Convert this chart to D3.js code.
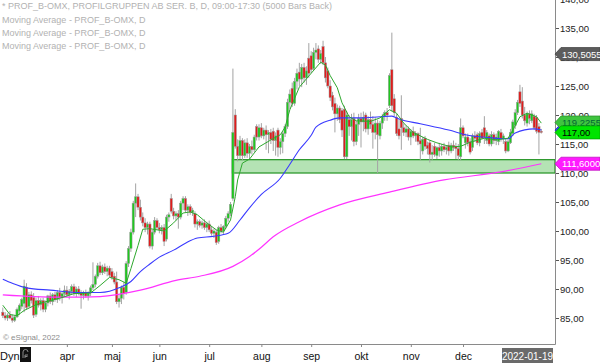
<!DOCTYPE html>
<html>
<head>
<meta charset="utf-8">
<script src="https://cdn.jsdelivr.net/npm/d3@7"></script>
<style>
  body { margin: 0; background: #fff; }
  svg { display: block; font-family: Arial, "Liberation Sans", sans-serif; }
</style>
</head>
<body>
<svg id="chart" width="600" height="363"></svg>
<script>
// daily bars, late Feb 2021 .. 2022-01-19
const opens = [
  86,85.4,85,85.5,85,84.6,85.2,86.2,87,87.5,90.3,87,89,88.5,85.6,88,87.3,88,86.5,87.6,88.8,87.8,89,88.2,89.4,88.5,89.2,
  89.8,89,89.6,90.4,89.2,90,89.3,88.9,89.4,88.8,89.3,90.2,90.8,92.2,94,92.8,93.8,93,93.6,
  93.0,92.2,91.2,87.8,88.4,90.3,89.4,94.4,97.0,99.8,104.8,105.9,104.1,102.4,101.4,100.6,101.2,97.4,99.8,101.8,
  100.6,100.2,100.6,98.6,102.4,105.6,103.4,102.6,103.0,102.4,104.8,105.6,103.6,104.2,103.2,103.0,101.2,101.6,101.0,101.4,100.6,
  101.2,100.2,99.6,99.8,98.2,100.6,100.0,100.8,102.2,103.0,105.6,120.0,114.6,113.0,115.6,113.0,115.2,113.4,114.6,114.0,118.0,116.2,
  117.8,116.4,117.4,116.6,117.0,117.2,115.6,117.4,114.4,115.4,116.8,118.0,122.2,124.6,122.0,125.8,127.4,126.2,128.2,126.4,129.8,
  130.2,128.0,130.8,131.4,129.6,131.8,129.0,127.6,125.0,123.4,122.0,120.2,121.2,120.8,121.0,112.8,119.2,118.0,119.4,115.4,118.4,
  119.4,118.8,120.0,117.6,119.2,118.4,117.0,118.6,116.4,118.6,119.8,120.4,121.6,127.8,122.8,119.6,117.6,119.4,117.8,117.0,117.6,
  116.2,117.2,116.4,116.8,115.6,113.8,116.0,114.8,115.2,113.2,114.6,113.0,114.4,113.8,114.6,114.0,114.8,113.8,114.8,114.6,114.2,112.8,
  117.8,115.2,116.2,115.4,114.4,116.4,116.6,115.2,117.0,117.8,115.6,116.4,115.0,116.6,115.6,115.4,117.0,116.0,115.4,113.8,115.2,
  116.8,118.2,120.4,124.0,122.4,120.0,118.6,120.2,119.0,119.8,119.6,118.0,117.2
];
const highs = [
  86.8,86,85.8,86.2,85.6,85.5,86.8,87.5,88.5,91.6,91,89.5,89.6,89.3,88.5,88.8,88.4,88.5,88,89,89.4,89.3,89.5,89.8,90.2,89.5,90.6,
  90.5,90,90.8,90.9,90.4,90.5,89.8,89.7,89.9,89.6,90.6,94.6,92.5,94.5,94.7,94.2,94.4,94,94,
  93.6,92.8,93.0,89.0,90.6,91.2,94.8,97.4,100.4,105.2,108.2,106.4,105.4,103.2,102.2,101.6,101.6,100.2,102.4,102.2,
  101.4,101.0,101.2,102.8,103.2,106.4,104.0,103.4,103.6,105.2,106.0,106.0,104.6,104.6,104.0,103.4,102.0,102.0,101.8,102.0,101.6,
  101.8,100.8,100.4,100.2,100.9,101.2,101.0,102.6,103.4,105.0,128.0,121.0,115.8,116.4,116.0,115.8,116.0,115.0,115.6,116.6,118.4,118.4,
  118.6,117.8,118.2,117.4,117.6,117.8,117.0,117.8,116.0,117.2,118.4,122.8,124.4,125.6,126.4,128.0,129.0,128.8,129.0,128.4,132.4,
  131.0,131.6,132.4,132.0,131.2,132.8,130.0,128.2,126.0,124.0,123.0,121.8,121.6,121.2,121.6,120.6,120.0,120.2,120.4,119.0,120.2,
  120.4,120.6,120.4,119.8,120.6,119.8,119.6,119.2,119.0,120.2,120.8,121.2,127.2,134.2,123.6,120.2,119.2,123.4,118.6,118.2,118.0,
  117.6,118.0,117.2,117.0,117.8,116.2,116.4,115.4,115.6,114.8,115.2,114.6,115.2,115.0,115.2,114.8,115.4,115.2,115.6,115.2,115.0,119.4,
  118.2,116.8,116.8,116.0,116.8,117.2,117.0,117.2,117.6,119.8,117.4,116.8,117.2,117.0,116.8,117.4,117.6,116.8,116.0,115.8,117.6,
  119.2,121.0,122.6,125.2,124.8,121.4,120.6,120.8,120.8,120.2,120.0,118.6,117.6
];
const lows = [
  85,84.6,84.5,84.8,84.2,84.3,85,85.5,86.5,86,86.5,86.8,87.5,85,85.2,86.8,86.3,86,86,87,87.4,87.2,87.8,87.6,88,87.5,88.7,
  88.6,88.2,89,88.8,88.6,88.9,86.6,88.2,88.5,88,88.8,89.8,90.3,91.8,92.4,92.4,92.6,92.2,92,
  91.6,90.8,87.4,86.8,87.4,88.2,89.0,93.8,96.4,99.4,102.4,103.6,101.8,100.8,99.8,99.4,97.0,96.8,99.4,100.2,
  99.6,99.4,97.4,98.2,101.6,103.0,102.0,101.8,100.4,102.0,103.6,103.2,102.6,102.8,102.6,100.6,100.2,100.6,100.4,100.2,99.8,
  99.8,99.2,98.8,97.6,97.8,99.6,99.4,100.4,101.6,102.6,105.2,114.2,112.0,112.4,112.2,112.6,112.6,112.4,113.2,113.6,115.6,115.6,
  116.0,115.8,114.0,113.4,115.0,113.8,113.0,112.8,113.2,113.4,116.2,117.6,121.0,121.4,121.6,124.4,125.0,124.8,125.6,125.2,126.4,
  127.2,127.6,129.6,129.0,128.8,128.6,125.6,124.6,122.4,120.8,117.0,119.0,118.6,116.2,112.4,112.4,116.4,115.6,114.6,114.8,116.4,
  114.4,117.2,117.0,116.6,117.6,114.2,115.8,110.0,115.8,117.6,119.0,119.0,121.2,120.6,119.8,116.4,115.8,114.0,116.4,116.2,115.6,
  114.8,116.0,115.4,114.8,112.2,113.2,114.0,113.2,111.8,112.2,112.8,112.4,112.8,113.0,113.6,113.2,113.0,113.4,113.8,112.4,112.2,112.2,
  116.0,114.2,114.6,113.2,113.8,115.4,114.8,114.6,115.8,115.0,115.0,114.6,114.6,115.0,114.8,114.8,115.4,115.0,113.4,113.6,115.0,
  116.4,117.6,120.0,121.4,119.4,118.2,118.0,118.4,118.6,117.4,116.8,113.2,116.8
];
const closes = [
  85.4,85,85.5,85,84.6,85.2,86.5,87.2,88.2,90.5,86.8,89,88,85.5,88,87.2,88,86.5,87.6,88.8,87.8,89,88.2,89.4,88.5,89.2,89.8,
  89,89.6,90.4,89.2,90,89.3,88.9,89.4,88.8,89.3,90.2,90.8,92.2,94,92.8,93.8,93,93.6,92.4,
  92.0,91.2,87.8,88.4,90.3,89.2,94.4,97.0,99.8,104.8,105.9,104.1,102.4,101.4,100.6,101.2,97.4,99.8,101.8,100.6,
  100.2,100.6,98.2,102.4,102.8,103.4,102.6,103.0,102.4,104.8,105.6,103.6,104.2,103.2,103.6,101.2,101.6,101.0,101.4,100.6,101.2,
  100.2,99.6,100.0,98.0,100.6,100.0,100.8,102.2,103.0,104.6,117.0,114.6,113.0,115.6,113.0,115.2,113.4,114.6,114.0,116.2,116.2,117.8,
  116.4,117.4,116.6,117.0,115.8,115.6,116.4,114.4,115.4,116.8,118.0,122.2,123.6,122.0,125.8,127.2,126.2,128.2,126.4,127.6,127.2,
  127.8,130.8,131.2,129.6,130.6,129.0,126.4,125.0,123.0,121.4,120.2,121.2,119.2,117.4,112.8,120.0,118.0,119.2,115.4,118.4,119.4,
  118.8,119.6,117.6,119.2,118.4,117.0,118.6,116.6,118.6,119.8,120.4,120.0,126.8,121.6,120.4,116.8,116.4,117.8,117.0,117.6,116.2,
  117.2,116.4,116.8,115.4,115.0,115.8,114.6,114.2,113.2,113.6,113.2,114.4,113.8,114.6,114.0,114.4,113.8,114.8,114.4,114.2,113.0,117.8,
  116.4,116.2,115.2,113.6,116.4,116.0,115.2,116.8,116.0,116.2,117.0,115.0,116.6,115.6,116.2,117.2,116.0,116.4,113.8,115.4,117.0,
  118.8,120.4,122.2,122.0,120.0,119.0,120.2,119.4,120.2,117.8,117.2,117.0,117.0
];

// month labels sit on the first bar of each month
const monthStarts = [27, 46, 66, 87, 109, 130, 151, 172, 194];
const monthNames = ["apr", "maj", "jun", "jul", "aug", "sep", "okt", "nov", "dec"];
const priceTicks = [85, 90, 95, 100, 105, 110, 115, 120, 125, 130, 135, 140];

// moving averages, sampled at bar numbers
const maFastBars = [0,3,6,9,14,18,24,30,37,41,45,49,52,54,57,59,62,65,68,72,76,79,82,86,90,93,96,98,99,101,104,108,113,117,119,121,125,130,134,136,138,141,143,146,149,155,159,163,166,169,173,179,183,189,193,197,203,208,213,215,218,221,225,227];
const maFastVals = [87.2,85.6,85.4,86.3,87.3,87.8,88.4,89.2,89.3,90.6,92.0,91.6,91.0,93.5,97.5,100.3,100.4,100.2,100.0,101.4,103.1,103.3,102.8,101.4,100.2,99.8,101.9,105.9,108.8,111.7,112.4,114.5,115.7,116.6,117.9,120.9,124.8,127.2,129.1,128.6,126.8,124.7,122.1,119.7,119.0,118.9,119.5,120.9,120.3,118.6,117.0,115.8,115.2,114.5,114.6,115.3,116.0,115.7,116.0,117.4,119.7,120.3,119.7,118.6];
const maMidBars = [0,4,10,20,33,41,45,49,54,58,62,66,72,77,82,89,95,100,104,109,117,121,125,130,132,138,142,151,159,164,167,176,188,196,205,213,216,224,227];
const maMidVals = [91.7,91.0,90.2,89.8,89.4,89.4,89.6,90.2,91.3,93.0,94.3,95.5,96.7,97.9,98.8,99.1,99.6,101.9,104.0,106.3,109.1,111.5,114.0,116.5,117.9,119.1,119.5,119.5,119.7,119.8,119.3,118.5,117.4,116.5,116.1,115.9,116.9,117.6,117.4];
const maSlowBars = [0,13,27,41,58,73,83,97,104,109,114,125,142,163,186,210,227];
const maSlowVals = [89.0,88.7,88.6,88.7,89.8,91.5,92.2,93.9,95.6,97.2,99.0,101.6,104.5,106.7,108.8,110.2,111.6];

// support zone drawn from the July gap
const zoneStartBar = 97;
const zoneLow = 110.0, zoneHigh = 112.3;

const legendLines = [
  "* PROF_B-OMX, PROFILGRUPPEN AB SER. B, D, 09:00-17:30 (5000 Bars Back)",
  "Moving Average - PROF_B-OMX, D",
  "Moving Average - PROF_B-OMX, D",
  "Moving Average - PROF_B-OMX, D"
];

// right-hand value tags: value, text, fill, text colour (drawn in order)
const tagValues = [130.5055, 117.4, 118.7, 117.0, 111.6];
const tagTexts = ["130,5055", "117,4012", "119,2255", "117,00", "111,60008"];
const tagFills = ["#5c5c5c", "#2f3cff", "#3fc43f", "#00e400", "#ff1aff"];
const tagInk = ["#fff", "#fff", "#063", "#000", "#fff"];

const svg = d3.select("#chart");
const plotRight = 555, plotBottom = 344;

const x = d3.scaleLinear().domain([0, closes.length - 1]).range([2.8, 541.3]);
const y = d3.scaleLinear().domain([85, 135]).range([318, 28]);

const bars = closes.map((c, i) => ({ i, o: opens[i], h: highs[i], l: lows[i], c }));

// legend
svg.append("g").selectAll("text").data(legendLines).join("text")
  .attr("x", 2).attr("y", (d, i) => [9, 22.5, 35.5, 48.5][i])
  .attr("font-size", 9).attr("fill", "#b2b2b2").text(d => d);

// zone
svg.append("rect")
  .attr("x", x(zoneStartBar) - 0.5).attr("y", y(zoneHigh))
  .attr("width", plotRight - x(zoneStartBar) + 0.5).attr("height", y(zoneLow) - y(zoneHigh))
  .attr("fill", "#b4e3b4").attr("stroke", "#2f9a2f").attr("stroke-width", 1.3);

// candles
const cg = svg.append("g");
cg.selectAll("line").data(bars).join("line")
  .attr("x1", d => x(d.i)).attr("x2", d => x(d.i))
  .attr("y1", d => y(d.h)).attr("y2", d => y(d.l))
  .attr("stroke", "#a3a3a3").attr("stroke-width", 1);
cg.selectAll("rect").data(bars).join("rect")
  .attr("x", d => x(d.i) - 1.15).attr("width", 2.3)
  .attr("y", d => y(Math.max(d.o, d.c)))
  .attr("height", d => Math.max(1, Math.abs(y(d.o) - y(d.c))))
  .attr("fill", d => d.c >= d.o ? "#1fc81f" : "#e01c1c")
  .attr("stroke", "#9a9a9a").attr("stroke-width", 0.5);

// moving averages
function maLine(bs, vs, color, width, curve) {
  const pts = bs.map((b, k) => [b, vs[k]]);
  svg.append("path").datum(pts)
    .attr("fill", "none").attr("stroke", color).attr("stroke-width", width)
    .attr("d", d3.line().x(d => x(d[0])).y(d => y(d[1])).curve(curve));
}
maLine(maSlowBars, maSlowVals, "#ff33ff", 1.2, d3.curveMonotoneX);
maLine(maMidBars, maMidVals, "#3a3aff", 1.1, d3.curveMonotoneX);
maLine(maFastBars, maFastVals, "#2ea82e", 1, d3.curveLinear);

// copyright
svg.append("text").attr("x", 3).attr("y", 340).attr("font-size", 8)
  .attr("fill", "#8c8c8c").text("\u00a9 eSignal, 2022");

// right price axis
const yAxis = d3.axisRight(y).tickValues(priceTicks).tickSize(4).tickPadding(1)
  .tickFormat(d => d3.format(".2f")(d).replace(".", ","));
svg.append("g").attr("transform", `translate(${plotRight},0)`).call(yAxis)
  .call(g => g.select(".domain").remove())
  .call(g => g.selectAll("line").attr("stroke", "#555"))
  .call(g => g.selectAll("text").attr("font-size", 9.5).attr("fill", "#222")
    .attr("font-family", "Arial, 'Liberation Sans', sans-serif"));

// frame
svg.append("path")
  .attr("d", `M0,${plotBottom + 0.5} H${plotRight + 0.5} V0`)
  .attr("fill", "none").attr("stroke", "#8a8a8a").attr("stroke-width", 1);

// value tags
tagValues.forEach((v, k) => {
  const cy = y(v);
  svg.append("path")
    .attr("d", `M${plotRight},${cy} L${plotRight + 6},${cy - 6.5} H600 V${cy + 6.5} H${plotRight + 6} Z`)
    .attr("fill", tagFills[k]).attr("stroke", d3.color(tagFills[k]).darker(0.8)).attr("stroke-width", 0.8);
  svg.append("text").attr("x", plotRight + 7).attr("y", cy + 3.5)
    .attr("font-size", 9.5).attr("fill", tagInk[k]).text(tagTexts[k]);
});

// bottom month axis
const xAxis = d3.axisBottom(x).tickValues(monthStarts).tickSize(3).tickPadding(5.5)
  .tickFormat((d, i) => monthNames[i]);
svg.append("g").attr("transform", `translate(0,${plotBottom})`).call(xAxis)
  .call(g => g.select(".domain").remove())
  .call(g => g.selectAll("line").attr("stroke", "#888"))
  .call(g => g.selectAll("text").attr("font-size", 10.5).attr("fill", "#111")
    .attr("font-family", "Arial, 'Liberation Sans', sans-serif"));

svg.append("text").attr("x", 0).attr("y", 360).attr("font-size", 11).attr("fill", "#111").text("Dyn");
svg.append("rect").attr("x", 20).attr("y", 347).attr("width", 11).attr("height", 15).attr("fill", "#111");
svg.append("path").attr("d", "M23,358 V352 a2.5,2.5 0 0 1 5,0 M25,358 V355 H28 M25,356.5 H27.5")
  .attr("fill", "none").attr("stroke", "#8a8a8a").attr("stroke-width", 1);

svg.append("rect").attr("x", 502).attr("y", 348).attr("width", 51).attr("height", 15).attr("fill", "#6a6a6a");
svg.append("text").attr("x", 527.5).attr("y", 359.5).attr("text-anchor", "middle")
  .attr("font-size", 10).attr("fill", "#fff").text("2022-01-19");
</script>
</body>
</html>
